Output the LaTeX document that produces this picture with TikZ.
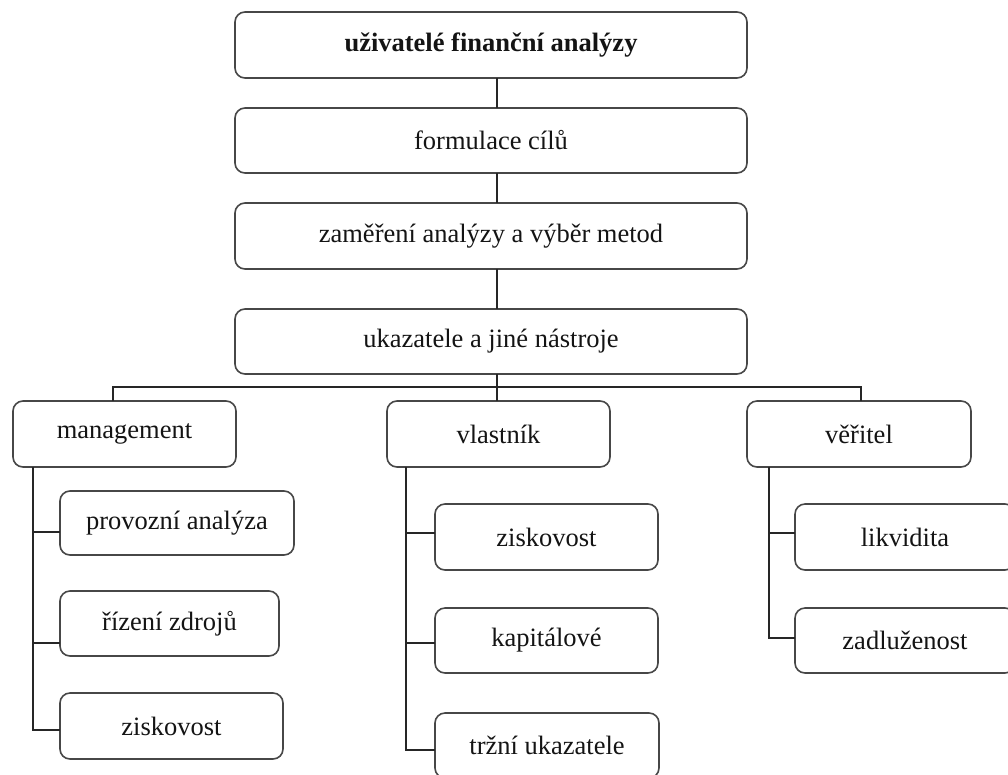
\documentclass[tikz,border=0pt]{standalone}
\usepackage{fontspec}
\setmainfont{Liberation Serif}
\begin{document}
\begin{tikzpicture}[x=1pt,y=-1pt,
  box/.style={draw=black!72, line width=1.6pt, rounded corners=10pt, fill=white,
    inner sep=0pt, outer sep=0pt, font=\fontsize{26.5}{31}\selectfont, text=black!92},
  conn/.style={draw=black!85, line width=1.3pt}]
\path[use as bounding box] (0,0) rectangle (1008,774);
\clip (0,0) rectangle (1008,774);
\fill[white] (0,0) rectangle (1008,774);

% top chain
\node[box, minimum width=512pt, minimum height=66pt] (b1) at (491,45) {\bfseries uživatelé finanční analýzy};
\node[box, minimum width=512pt, minimum height=65pt] (b2) at (491,140.5) {formulace cílů};
\node[box, minimum width=512pt, minimum height=66pt] (b3) at (491,236) {zaměření analýzy a výběr metod};
\node[box, minimum width=512pt, minimum height=65pt] (b4) at (491,341.5) {ukazatele a jiné nástroje};

% level 2
\node[box, minimum width=223pt, minimum height=66pt] (mg) at (124.5,434) {management};
\node[box, minimum width=223pt, minimum height=66pt] (vl) at (498.5,434) {vlastník};
\node[box, minimum width=224pt, minimum height=66pt] (ve) at (859,434) {věřitel};

% management children
\node[box, minimum width=234pt, minimum height=64pt] (m1) at (177,523) {provozní analýza};
\node[box, minimum width=219pt, minimum height=65pt] (m2) at (169.5,623.5) {řízení zdrojů};
\node[box, minimum width=223pt, minimum height=66pt] (m3) at (171.5,726) {ziskovost};

% vlastnik children
\node[box, minimum width=223pt, minimum height=66pt] (v1) at (546.5,537) {ziskovost};
\node[box, minimum width=223pt, minimum height=65pt] (v2) at (546.5,640.5) {kapitálové};
\node[box, minimum width=224pt, minimum height=65pt] (v3) at (547,745.5) {tržní ukazatele};

% veritel children
\node[box, minimum width=220pt, minimum height=66pt] (r1) at (905,537) {likvidita};
\node[box, minimum width=220pt, minimum height=65pt] (r2) at (905,640.5) {zadluženost};

% coordinates
\coordinate (vx) at (497,0);
\coordinate (busL) at (113,387);
\coordinate (busR) at (861,387);
\coordinate (jm1) at (33,532);
\coordinate (jm2) at (33,643);
\coordinate (jm3) at (33,730);
\coordinate (jv1) at (406,533);
\coordinate (jv2) at (406,643);
\coordinate (jv3) at (406,750);
\coordinate (jr1) at (769,533);
\coordinate (jr2) at (769,638);

% top connectors
\draw[conn] (b1.south -| vx) -- (b2.north -| vx);
\draw[conn] (b2.south -| vx) -- (b3.north -| vx);
\draw[conn] (b3.south -| vx) -- (b4.north -| vx);
\draw[conn] (b4.south -| vx) -- (vl.north -| vx);
\draw[conn] (mg.north -| busL) -- (busL) -- (busR) -- (ve.north -| busR);

% management spine
\draw[conn] (mg.south -| jm1) -- (jm3) -- (jm3 -| m3.west);
\draw[conn] (jm1) -- (jm1 -| m1.west);
\draw[conn] (jm2) -- (jm2 -| m2.west);

% vlastnik spine
\draw[conn] (vl.south -| jv1) -- (jv3) -- (jv3 -| v3.west);
\draw[conn] (jv1) -- (jv1 -| v1.west);
\draw[conn] (jv2) -- (jv2 -| v2.west);

% veritel spine
\draw[conn] (ve.south -| jr1) -- (jr2) -- (jr2 -| r2.west);
\draw[conn] (jr1) -- (jr1 -| r1.west);
\end{tikzpicture}
\end{document}
